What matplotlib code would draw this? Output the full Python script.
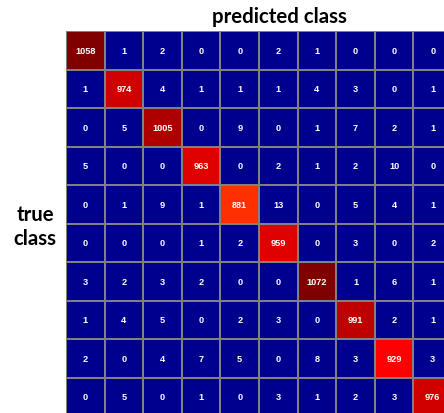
import numpy as np
import matplotlib
matplotlib.use("Agg")
import matplotlib.pyplot as plt
from matplotlib.colors import ListedColormap, Normalize

# Confusion matrix counts (rows: true class, columns: predicted class)
row0 = [1058, 1, 2, 0, 0, 2, 1, 0, 0, 0]
row1 = [1, 974, 4, 1, 1, 1, 4, 3, 0, 1]
row2 = [0, 5, 1005, 0, 9, 0, 1, 7, 2, 1]
row3 = [5, 0, 0, 963, 0, 2, 1, 2, 10, 0]
row4 = [0, 1, 9, 1, 881, 13, 0, 5, 4, 1]
row5 = [0, 0, 0, 1, 2, 959, 0, 3, 0, 2]
row6 = [3, 2, 3, 2, 0, 0, 1072, 1, 6, 1]
row7 = [1, 4, 5, 0, 2, 3, 0, 991, 2, 1]
row8 = [2, 0, 4, 7, 5, 0, 8, 3, 929, 3]
row9 = [0, 5, 0, 1, 0, 3, 1, 2, 3, 976]
counts = np.array([row0, row1, row2, row3, row4, row5, row6, row7, row8, row9])


def jet64(m=64):
    """Classic 64-level jet colour table."""
    n = int(np.ceil(m / 4))
    u = np.concatenate([np.arange(1, n + 1) / n, np.ones(n - 1), np.arange(n, 0, -1) / n])
    g = int(np.ceil(n / 2)) - (1 if m % 4 == 1 else 0) + np.arange(1, len(u) + 1)
    r = g + n
    b = g - n
    rgb = np.zeros((m, 3))
    for ch, idx in ((0, r), (1, g), (2, b)):
        keep = (idx >= 1) & (idx <= m)
        rgb[idx[keep] - 1, ch] = u[keep]
    return ListedColormap(rgb)


cmap = jet64()
norm = Normalize(vmin=0, vmax=counts.max())

fig = plt.figure(figsize=(4.44, 4.14), dpi=100)
W, H = 444, 414
ax = fig.add_axes([66 / W, (H - 417) / H, 386 / W, 385 / H])

n = counts.shape[0]
ax.pcolormesh(np.arange(n + 1), np.arange(n + 1), counts, cmap=cmap, norm=norm,
              edgecolors="#808080", linewidth=1.2)
ax.set_xlim(0, n)
ax.set_ylim(n, 0)
ax.set_axis_off()

for i in range(n):
    for j in range(n):
        ax.text(j + 0.5, i + 0.5, str(counts[i, j]), ha="center", va="center",
                color="white", fontsize=6.6, fontweight="bold", family="Liberation Sans")

fig.text(279 / W, 1 - 17 / H, "predicted class", ha="center", va="center",
         fontsize=14.7, fontweight="bold", family="Lato")
fig.text(35 / W, 1 - 227 / H, "true\nclass", ha="center", va="center",
         fontsize=14.7, fontweight="bold", family="Lato", linespacing=1.3)

fig.savefig("out.png", dpi=100)
